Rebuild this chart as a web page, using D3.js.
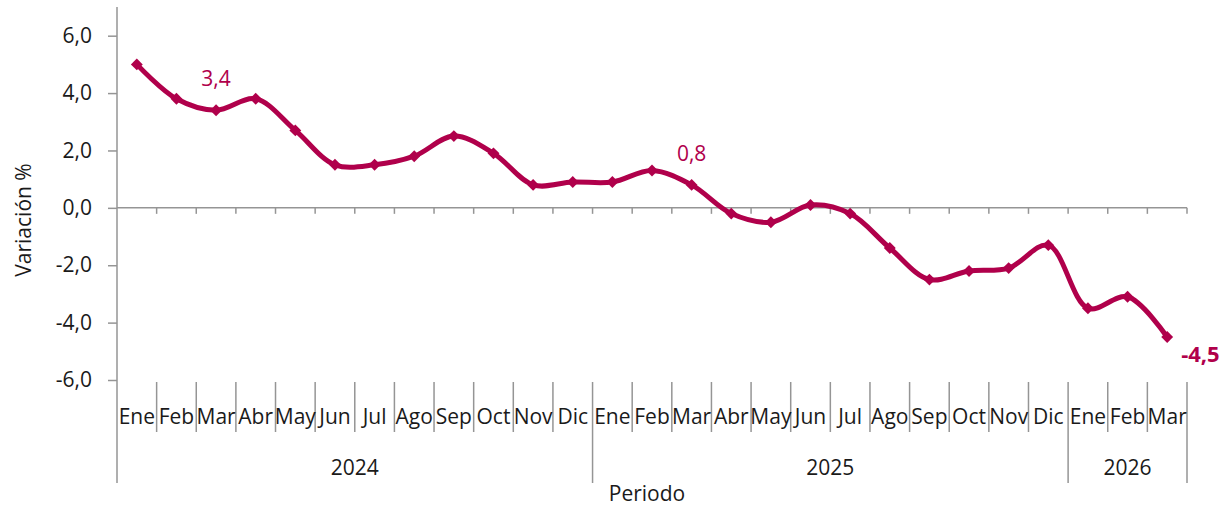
<!DOCTYPE html>
<html>
<head>
<meta charset="utf-8">
<script src="https://cdn.jsdelivr.net/npm/d3@7"></script>
<style>
    body { margin: 0; background: #fff; }
    svg { display: block; font-family: "Open Sans", "Noto Sans", sans-serif; }
</style>
</head>
<body>
<svg id="chart" width="1230" height="506"></svg>
<script>
// data
var months = ["Ene", "Feb", "Mar", "Abr", "May", "Jun", "Jul", "Ago", "Sep", "Oct", "Nov", "Dic",
    "Ene", "Feb", "Mar", "Abr", "May", "Jun", "Jul", "Ago", "Sep", "Oct", "Nov", "Dic",
    "Ene", "Feb", "Mar"];
var years = ["2024", "2025", "2026"];
var yearCounts = [12, 12, 3];
var values = [5.0, 3.8, 3.4, 3.8, 2.7, 1.5, 1.5, 1.8, 2.5, 1.9, 0.8, 0.9,
    0.9, 1.3, 0.8, -0.2, -0.5, 0.1, -0.2, -1.4, -2.5, -2.2, -2.1, -1.3,
    -3.5, -3.1, -4.5];
var yTicks = [-6, -4, -2, 0, 2, 4, 6];
var labelled = [2, 14]; // plain data labels (Mar 2024, Mar 2025)

/* parameters */
let plotL = 117, plotR = 1187;
let plotT = 7, plotB = 380;
let monthLineEnd = 432, yearLineEnd = 483;
let color = "#b0004b", axisColor = "#959595", textColor = "#1a1a1a";
let fs = 21; // font size of most texts

let loc = d3.formatLocale({decimal: ",", thousands: ".", grouping: [3], currency: ["", ""], minus: "-"});
let fmt = loc.format(".1f");

let svg = d3.select("#chart");

let xScale = d3.scaleBand()
    .domain(d3.range(months.length))
    .range([plotL, plotR]);
let yScale = d3.scaleLinear()
    .domain([-6, 7])
    .range([plotB, plotT]);
let cx = (d, i) => xScale(i) + xScale.bandwidth() / 2;

// y axis
let yAxis = svg.append("g")
    .attr("transform", "translate(" + plotL + ",0)")
    .call(d3.axisLeft(yScale).tickValues(yTicks).tickFormat(fmt).tickSize(9).tickSizeOuter(0));
yAxis.select(".domain").remove();
yAxis.selectAll(".tick line").attr("stroke", axisColor).attr("stroke-width", 1.5);
yAxis.selectAll(".tick text")
    .attr("x", -25)
    .attr("font-size", fs)
    .attr("fill", textColor)
    .attr("font-family", "Open Sans, sans-serif");

// the vertical axis line runs down through the category area
svg.append("line")
    .attr("x1", plotL).attr("x2", plotL)
    .attr("y1", plotT).attr("y2", yearLineEnd)
    .attr("stroke", axisColor).attr("stroke-width", 1.5);

// horizontal axis at zero, ticks between categories
let bounds = d3.range(months.length + 1).map(i => plotL + i * xScale.bandwidth());
svg.append("line")
    .attr("x1", plotL).attr("x2", plotR)
    .attr("y1", yScale(0)).attr("y2", yScale(0))
    .attr("stroke", axisColor).attr("stroke-width", 1.5);
svg.selectAll(".zeroTick")
    .data(bounds.slice(1))
    .join("line")
    .attr("class", "zeroTick")
    .attr("x1", d => d).attr("x2", d => d)
    .attr("y1", yScale(0)).attr("y2", yScale(0) + 6)
    .attr("stroke", axisColor).attr("stroke-width", 1.5);

// category area: month separators and year separators
let yearStarts = [0];
yearCounts.forEach((n, i) => yearStarts.push(yearStarts[i] + n));
svg.selectAll(".monthSep")
    .data(bounds.slice(1))
    .join("line")
    .attr("class", "monthSep")
    .attr("x1", d => d).attr("x2", d => d)
    .attr("y1", plotB + 2)
    .attr("y2", (d, i) => yearStarts.includes(i + 1) ? yearLineEnd : monthLineEnd)
    .attr("stroke", axisColor).attr("stroke-width", 1.5);

svg.selectAll(".month")
    .data(months)
    .join("text")
    .attr("class", "month")
    .attr("x", cx)
    .attr("y", 424)
    .attr("text-anchor", "middle")
    .attr("font-size", fs)
    .attr("fill", textColor)
    .text(d => d);

svg.selectAll(".year")
    .data(years)
    .join("text")
    .attr("class", "year")
    .attr("x", (d, i) => (bounds[yearStarts[i]] + bounds[yearStarts[i + 1]]) / 2)
    .attr("y", 475)
    .attr("text-anchor", "middle")
    .attr("font-size", fs)
    .attr("fill", textColor)
    .text(d => d);

// axis titles
svg.append("text")
    .attr("x", 647).attr("y", 501)
    .attr("text-anchor", "middle")
    .attr("font-size", fs)
    .attr("fill", textColor)
    .text("Periodo");
svg.append("text")
    .attr("transform", "translate(31,220) rotate(-90)")
    .attr("text-anchor", "middle")
    .attr("font-size", fs)
    .attr("fill", textColor)
    .text("Variación %");

// the series
let line = d3.line()
    .x(cx)
    .y(d => yScale(d))
    .curve(d3.curveCatmullRom.alpha(0.5));
svg.append("path")
    .datum(values)
    .attr("d", line)
    .attr("fill", "none")
    .attr("stroke", color)
    .attr("stroke-width", 5)
    .attr("stroke-linejoin", "round");

svg.selectAll(".mark")
    .data(values)
    .join("path")
    .attr("class", "mark")
    .attr("d", d3.symbol(d3.symbolDiamond2, 90))
    .attr("transform", (d, i) => "translate(" + cx(d, i) + "," + yScale(d) + ")")
    .attr("fill", color);

// data labels
svg.selectAll(".dlabel")
    .data(labelled)
    .join("text")
    .attr("class", "dlabel")
    .attr("x", i => cx(values[i], i))
    .attr("y", i => yScale(values[i]) - 24)
    .attr("text-anchor", "middle")
    .attr("font-size", fs)
    .attr("fill", color)
    .text(i => fmt(values[i]));

let last = values.length - 1;
svg.append("text")
    .attr("x", cx(values[last], last) + 14)
    .attr("y", yScale(values[last]) + 25)
    .attr("font-size", 22)
    .attr("font-weight", "bold")
    .attr("fill", color)
    .text(fmt(values[last]));
</script>
</body>
</html>
